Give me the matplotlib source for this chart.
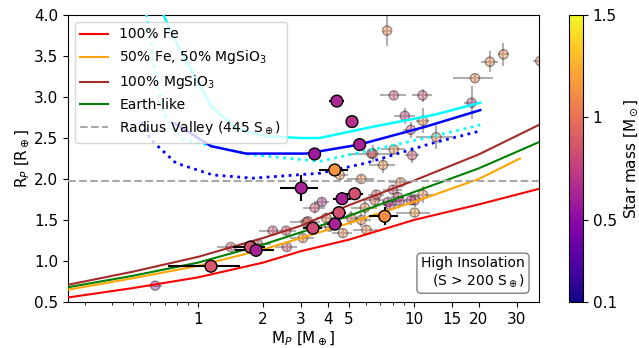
import matplotlib.pyplot as plt
import numpy as np
from matplotlib.colors import Normalize
from matplotlib.cm import ScalarMappable

# composition curves (mass in Earth masses, radius in Earth radii)
m_fe = [0.25, 0.5, 1, 2, 3, 5, 10, 20, 38]
r_fe = [0.555, 0.67, 0.80, 0.98, 1.12, 1.26, 1.50, 1.69, 1.88]
m_half = [0.25, 0.5, 1, 2, 3, 5, 10, 20, 31]
r_half = [0.65, 0.79, 0.94, 1.14, 1.28, 1.46, 1.72, 2.00, 2.25]
m_mgsio3 = [0.25, 0.5, 1, 2, 3, 5, 10, 20, 38]
r_mgsio3 = [0.71, 0.87, 1.05, 1.28, 1.43, 1.68, 1.98, 2.30, 2.66]
m_earth = [0.25, 0.5, 1, 2, 3, 5, 10, 20, 38]
r_earth = [0.68, 0.82, 0.98, 1.20, 1.35, 1.55, 1.84, 2.13, 2.45]
r_valley = 1.98

# envelope tracks
m_cyan = [0.64, 0.78, 1.15, 1.5, 2.07, 3.0, 3.66, 6.0, 12.3, 20.3]
r_cyan = [4.2, 3.70, 2.885, 2.62, 2.52, 2.50, 2.50, 2.62, 2.78, 2.93]
m_cyan_dot = [0.57, 0.638, 0.71, 0.86, 1.17, 1.73, 3.66, 6.03, 12.3, 20.3]
r_cyan_dot = [4.1, 3.25, 2.72, 2.48, 2.40, 2.30, 2.215, 2.34, 2.52, 2.66]
m_blue = [0.78, 1.15, 1.67, 3.17, 5.6, 11.4, 20.3]
r_blue = [2.68, 2.40, 2.31, 2.31, 2.42, 2.64, 2.84]
m_blue_dot = [0.55, 0.605, 0.79, 1.17, 1.79, 3.66, 6.03, 12.3, 19.9]
r_blue_dot = [2.7, 2.48, 2.195, 2.05, 2.01, 2.07, 2.195, 2.44, 2.58]

# full sample
mp = [7.52, 22.5, 26.0, 38.5, 19.2, 8.07, 10.97, 18.5, 9.08, 11.0,
      9.68, 12.7, 8.07, 6.47, 7.2, 9.82, 8.67, 11.0, 4.53, 5.71,
      3.75, 3.47, 6.59, 7.59, 8.44, 10.1, 5.93, 5.13, 5.71, 10.1,
      3.93, 3.17, 8.0, 6.71, 4.07, 6.03, 4.69, 3.23, 2.22, 2.56,
      2.58, 3.06, 1.42, 1.89, 0.634, 7.76, 8.6, 9.7, 6.36]
rp = [3.81, 3.43, 3.52, 3.44, 3.23, 3.02, 3.02, 2.93, 2.77, 2.71,
      2.60, 2.51, 2.36, 2.31, 2.17, 2.29, 1.96, 1.81, 2.05, 2.00,
      1.72, 1.65, 1.74, 1.72, 1.78, 1.74, 1.65, 1.525, 1.50, 1.59,
      1.525, 1.47, 1.87, 1.81, 1.42, 1.38, 1.34, 1.485, 1.37, 1.37,
      1.17, 1.28, 1.17, 1.21, 0.70, 1.68, 1.73, 1.74, 2.31]
mp_err = [0.3, 2.0, 1.5, 3.0, 4.0, 1.1, 1.2, 1.5, 1.0, 0.8,
          0.8, 2.5, 1.0, 1.5, 1.0, 0.7, 1.0, 1.5, 0.4, 0.8,
          0.3, 0.4, 0.7, 0.5, 0.6, 1.0, 0.8, 0.8, 0.6, 1.8,
          0.4, 0.5, 0.8, 0.6, 0.4, 0.8, 0.5, 0.3, 0.3, 0.3,
          0.3, 0.4, 0.2, 0.3, 0.05, 0.6, 0.6, 0.6, 0.6]
rp_err = [0.19, 0.13, 0.14, 0.1, 0.05, 0.05, 0.08, 0.2, 0.1, 0.15,
          0.1, 0.15, 0.05, 0.1, 0.1, 0.1, 0.05, 0.1, 0.08, 0.05,
          0.05, 0.07, 0.08, 0.05, 0.06, 0.08, 0.1, 0.08, 0.08, 0.05,
          0.06, 0.06, 0.06, 0.06, 0.06, 0.06, 0.05, 0.05, 0.05, 0.05,
          0.05, 0.05, 0.04, 0.05, 0.02, 0.05, 0.05, 0.05, 0.05]
mstar = [1.1, 1.1, 1.1, 1.05, 1.1, 0.85, 0.85, 0.7, 0.75, 1.1,
         0.85, 1.1, 1.1, 1.05, 1.1, 0.85, 1.1, 1.1, 1.1, 1.1,
         0.7, 0.85, 1.0, 0.75, 0.85, 0.8, 1.1, 1.1, 1.1, 1.2,
         1.1, 1.1, 0.85, 0.9, 1.1, 1.1, 1.1, 0.85, 0.85, 0.85,
         0.85, 1.1, 0.85, 0.85, 0.55, 0.72, 0.72, 0.72, 0.85]

# high insolation subsample
mp_hi = [4.40, 5.17, 5.61, 3.47, 3.01, 4.30, 5.32, 4.65, 4.50, 3.41,
         4.31, 7.33, 1.149, 1.75, 1.86]
rp_hi = [2.95, 2.70, 2.42, 2.305, 1.89, 2.11, 1.82, 1.76, 1.59, 1.40,
         1.45, 1.545, 0.936, 1.17, 1.13]
mp_hi_err = [0.35, 0.3, 0.3, 0.25, 0.6, 0.65, 0.5, 0.45, 0.35, 0.35,
             0.35, 1.1, 0.42, 0.3, 0.38]
rp_hi_err = [0.03, 0.03, 0.03, 0.03, 0.16, 0.05, 0.07, 0.08, 0.08, 0.06,
             0.06, 0.11, 0.05, 0.06, 0.05]
mstar_hi = [0.65, 0.68, 0.62, 0.58, 0.62, 1.15, 0.85, 0.62, 0.85, 0.82,
            0.62, 1.12, 0.88, 0.85, 0.62]

norm = Normalize(vmin=0.1, vmax=1.5)
cmap = plt.get_cmap('plasma')

fig = plt.figure(figsize=(6.39, 3.48), dpi=100)
ax = fig.add_axes([0.1064, 0.1322, 0.7371, 0.8247])
cax = fig.add_axes([0.8905, 0.1322, 0.0219, 0.8247])

ax.errorbar(mp, rp, xerr=mp_err, yerr=rp_err, fmt='none', ecolor='#b0b0b0',
            elinewidth=1.5, zorder=1)
ax.scatter(mp, rp, c=mstar, cmap=cmap, norm=norm, s=44, alpha=0.4,
           edgecolors='k', linewidths=1, zorder=2)

ax.plot(m_cyan, r_cyan, color='cyan', lw=1.8, zorder=3)
ax.plot(m_cyan_dot, r_cyan_dot, color='cyan', lw=2, ls=':', zorder=3)
ax.plot(m_blue, r_blue, color='blue', lw=1.8, zorder=3)
ax.plot(m_blue_dot, r_blue_dot, color='blue', lw=2, ls=':', zorder=3)

ax.plot(m_fe, r_fe, color='red', lw=1.5, label='100% Fe', zorder=3)
ax.plot(m_half, r_half, color='orange', lw=1.5, label='50% Fe, 50% MgSiO$_3$', zorder=3)
ax.plot(m_mgsio3, r_mgsio3, color='brown', lw=1.5, label='100% MgSiO$_3$', zorder=3)
ax.plot(m_earth, r_earth, color='green', lw=1.5, label='Earth-like', zorder=3)
ax.axhline(r_valley, color='darkgray', lw=1.5, ls='--',
           label='Radius Valley (445 S$_\\oplus$)', zorder=3)

ax.errorbar(mp_hi, rp_hi, xerr=mp_hi_err, yerr=rp_hi_err, fmt='none', ecolor='k',
            elinewidth=1.5, zorder=4)
ax.scatter(mp_hi, rp_hi, c=mstar_hi, cmap=cmap, norm=norm, s=72,
           edgecolors='k', linewidths=1, zorder=5)

ax.set_xscale('log')
ax.set_xlim(0.25, 38)
ax.set_ylim(0.5, 4.0)
ax.set_xticks([1, 2, 3, 4, 5, 10, 15, 20, 30])
ax.set_xticklabels(['1', '2', '3', '4', '5', '10', '15', '20', '30'])
ax.set_yticks(np.arange(0.5, 4.01, 0.5))
ax.tick_params(labelsize=11)
ax.set_xlabel('M$_P$ [M$_\\oplus$]', fontsize=11, labelpad=2)
ax.set_ylabel('R$_P$ [R$_\\oplus$]', fontsize=11, labelpad=2)

ax.legend(loc='upper left', fontsize=10)
ax.text(0.97, 0.045, 'High Insolation\n(S > 200 S$_\\oplus$)', transform=ax.transAxes,
        ha='right', va='bottom', multialignment='right', fontsize=10,
        bbox=dict(boxstyle='round', fc='white', ec='gray'), zorder=6)

cb = fig.colorbar(ScalarMappable(norm=norm, cmap=cmap), cax=cax)
cb.set_ticks([0.1, 0.5, 1, 1.5])
cb.set_ticklabels(['0.1', '0.5', '1', '1.5'])
cb.ax.tick_params(labelsize=11)
cb.set_label('Star mass [M$_\\odot$]', fontsize=11)

fig.savefig('out.png', dpi=100)
